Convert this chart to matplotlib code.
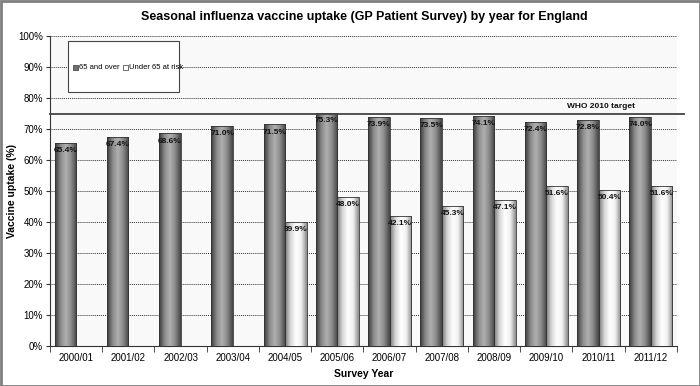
import numpy as np
import matplotlib.pyplot as plt
from matplotlib.patches import Rectangle
from matplotlib.colors import LinearSegmentedColormap

plt.rcParams['font.family'] = ['Liberation Sans', 'DejaVu Sans']

# Dados
anos = ["2000/01", "2001/02", "2002/03", "2003/04", "2004/05", "2005/06",
        "2006/07", "2007/08", "2008/09", "2009/10", "2010/11", "2011/12"]
acima_65 = [65.4, 67.4, 68.6, 71.0, 71.5, 75.3, 73.9, 73.5, 74.1, 72.4, 72.8, 74.0]
abaixo_65 = [None, None, None, None, 39.9, 48.0, 42.1, 45.3, 47.1, 51.6, 50.4, 51.6]
meta_oms = 75

# Gradientes tipo "cilindro"
cm_escuro = LinearSegmentedColormap.from_list(
    "escuro", ["#3a3a3a", "#8a8a8a", "#b0b0b0", "#888888", "#444444"])
cm_claro = LinearSegmentedColormap.from_list(
    "claro", ["#7a7a7a", "#d8d8d8", "#ffffff", "#f0f0f0", "#8a8a8a"])
grad = np.linspace(0, 1, 64).reshape(1, -1)

fig = plt.figure(figsize=(7, 3.86), dpi=100)
ax = fig.add_axes([0.0714, 0.1036, 0.8957, 0.8031])
ax.set_facecolor("#f9f9f9")

x = np.arange(len(anos))
w = 0.41


def barra(xe, h, cmap):
    r = Rectangle((xe, 0), w, h, facecolor="none", edgecolor="#333333",
                  linewidth=0.6, zorder=4)
    ax.add_patch(r)
    im = ax.imshow(grad, cmap=cmap, aspect="auto", extent=(xe, xe + w, 0, h),
                   zorder=3, interpolation="bicubic")
    im.set_clip_path(r)


for i in x:
    barra(i - w, acima_65[i], cm_escuro)
    ax.annotate(f"{acima_65[i]:.1f}%", (i - w / 2, acima_65[i]),
                xytext=(0, -3), textcoords="offset points", ha="center",
                va="top", fontsize=6, fontweight="bold", color="#111111",
                zorder=6)
    if abaixo_65[i] is not None:
        barra(i, abaixo_65[i], cm_claro)
        ax.annotate(f"{abaixo_65[i]:.1f}%", (i + w / 2, abaixo_65[i]),
                    xytext=(0, -3), textcoords="offset points", ha="center",
                    va="top", fontsize=6, fontweight="bold", color="#111111",
                    zorder=6)

ax.set_xlim(-0.5, len(anos) - 0.5)
ax.set_ylim(0, 100)

# Linhas de grade pontilhadas
for y in range(10, 101, 10):
    ax.axhline(y, color="#333333", linestyle=(0, (1, 1)), linewidth=0.7, zorder=1)

# Meta OMS
ax.plot([0, 1.012], [meta_oms, meta_oms], transform=ax.get_yaxis_transform(),
        color="#444444", linewidth=1.3, clip_on=False, zorder=5)
ax.text(10.05, meta_oms + 1, "WHO 2010 target", fontsize=6, fontweight="bold",
        ha="center", va="bottom", color="#111111")

ax.set_yticks(range(0, 101, 10))
ax.set_yticklabels([f"{v}%" for v in range(0, 101, 10)], fontsize=7)
ax.set_xticks(x)
ax.set_xticklabels(anos, fontsize=7)
ax.set_xticks(np.arange(-0.5, len(anos)), minor=True)
ax.tick_params(axis="x", which="major", length=0, pad=5)
ax.tick_params(axis="x", which="minor", length=4, direction="out", color="#333333")
ax.tick_params(axis="y", length=3, color="#333333", pad=2)
for s in ["top", "right"]:
    ax.spines[s].set_visible(False)
ax.spines["left"].set_color("#333333")
ax.spines["bottom"].set_color("#333333")

ax.set_ylabel("Vaccine uptake (%)", fontsize=7.5, fontweight="bold")
ax.yaxis.set_label_coords(-0.052, 0.5)
ax.set_xlabel("Survey Year", fontsize=7.5, fontweight="bold", labelpad=4)
fig.text(0.52, 0.955, "Seasonal influenza vaccine uptake (GP Patient Survey) by year for England",
         ha="center", va="center", fontsize=9, fontweight="bold")

# Caixa da legenda
leg = Rectangle((68, 294), 111, 51, transform=None, facecolor="white",
                edgecolor="#444444", linewidth=0.8, zorder=7)
fig.patches.append(leg)
fig.patches.append(Rectangle((73, 316), 5, 5, transform=None, facecolor="#707070",
                             edgecolor="#333333", linewidth=0.5, zorder=8))
fig.text(79 / 700, 318.5 / 386, "65 and over", fontsize=5.5, va="center", zorder=8)
fig.patches.append(Rectangle((123, 316), 5, 5, transform=None, facecolor="white",
                             edgecolor="#333333", linewidth=0.5, zorder=8))
fig.text(129 / 700, 318.5 / 386, "Under 65 at risk", fontsize=5.5, va="center", zorder=8)

# Moldura da figura
fig.patches.append(Rectangle((0.5, 0.5), 699, 385, transform=None, facecolor="none",
                             edgecolor="#7f7f7f", linewidth=2))

fig.savefig("out.png", dpi=100)
